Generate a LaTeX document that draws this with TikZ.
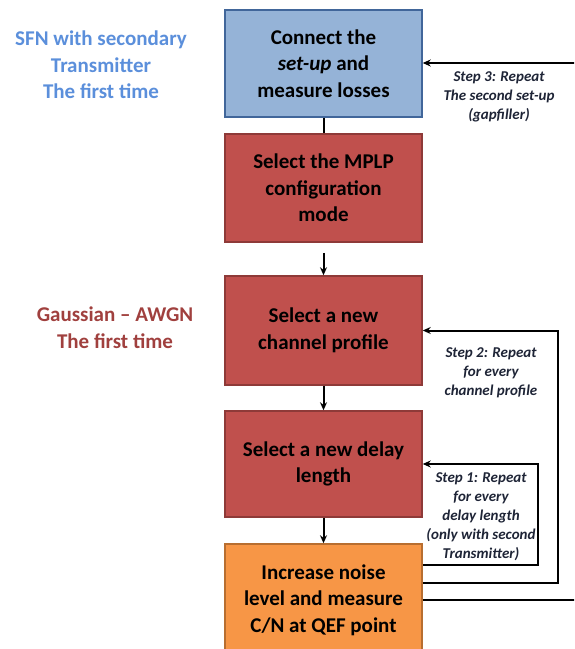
\documentclass[tikz,border=0pt]{standalone}
\usepackage{fontspec}
\setmainfont{Carlito}
\usetikzlibrary{arrows.meta}

\definecolor{bluefill}{HTML}{95B3D7}
\definecolor{blueline}{HTML}{41669A}
\definecolor{redfill}{HTML}{C0504D}
\definecolor{redline}{HTML}{8E3A38}
\definecolor{orangefill}{HTML}{F79646}
\definecolor{orangeline}{HTML}{B86E30}
\definecolor{sfnblue}{HTML}{5B8FDB}
\definecolor{awgnred}{HTML}{A0403E}
\definecolor{steptext}{HTML}{1E2436}

\tikzset{
  stepbox/.style={draw, line width=1.5pt, minimum width=197pt, align=center,
    inner sep=0pt, font=\fontsize{21}{26.5}\selectfont\bfseries, text=black},
  bluebox/.style={stepbox, fill=bluefill, draw=blueline},
  redbox/.style={stepbox, fill=redfill, draw=redline},
  orangebox/.style={stepbox, fill=orangefill, draw=orangeline},
  sidelabel/.style={align=center, font=\fontsize{21}{26.5}\selectfont\bfseries},
  loopnote/.style={align=center, text=steptext,
    font=\fontsize{15}{19}\selectfont\bfseries\itshape},
  conn/.style={line width=2pt, black},
  arr/.style={conn, -{Stealth[length=8pt,width=7pt]}}
}

\begin{document}
\begin{tikzpicture}[x=1pt,y=-1pt]
  \useasboundingbox (0,0) rectangle (574,649);
  \clip (0,0) rectangle (574,649);

  % process boxes
  \node[bluebox, minimum height=107pt] (b1) at (323.5,63.5)
    {Connect the\\\textit{set-up} and\\measure losses};
  \node[redbox, minimum height=108pt] (b2) at (323.5,188)
    {Select the MPLP\\configuration\\mode};
  \node[redbox, minimum height=109pt] (b3) at (323.5,330.5)
    {Select a new\\channel profile};
  \node[redbox, minimum height=106pt] (b4) at (323.5,464)
    {Select a new delay\\length};
  \node[orangebox, minimum height=112pt] (b5) at (323.5,600)
    {Increase noise\\level and measure\\C/N at QEF point};

  % side labels
  \node[sidelabel, text=sfnblue] (sfn) at (101,65)
    {SFN with secondary\\Transmitter\\The first time};
  \node[sidelabel, text=awgnred] (awgn) at (115,327.5)
    {Gaussian -- AWGN\\The first time};

  % main flow
  \draw[conn] (b1) -- (b2);
  \draw[arr, shorten <=10pt] (b2) -- (b3);
  \draw[arr] (b3) -- (b4);
  \draw[arr] (b4) -- (b5);

  % loop corners
  \coordinate (c1) at (538,565);
  \coordinate (c2) at (558,583);
  \coordinate (r5) at (580,600);
  \coordinate (r1) at (580,63);

  % step 1 loop
  \draw[arr] (b5.east |- c1) -- (c1) |- (b4.east);
  % step 2 loop
  \draw[arr] (b5.east |- c2) -- (c2) |- (b3.east);
  % step 3 loop, running off the right edge
  \draw[conn] (b5.east) -- (r5);
  \draw[arr] (r1) -- (b1.east |- r1);

  % loop notes
  \node[loopnote] (n3) at (499,97)
    {Step 3: Repeat\\The second set-up\\(gapfiller)};
  \node[loopnote] (n2) at (491,373)
    {Step 2: Repeat\\for every\\channel profile};
  \node[loopnote] (n1) at (481,517)
    {Step 1: Repeat\\for every\\delay length\\(only with second\\Transmitter)};
\end{tikzpicture}
\end{document}
